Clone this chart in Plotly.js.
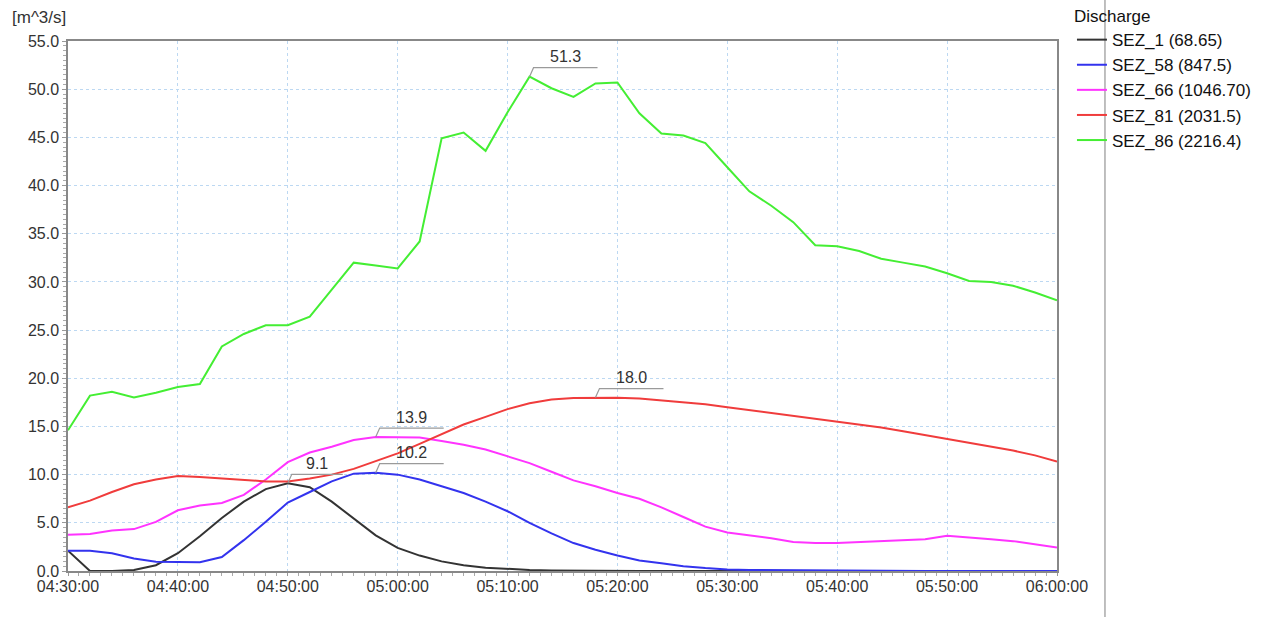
<!DOCTYPE html>
<html>
<head>
<meta charset="utf-8">
<script src="https://cdn.plot.ly/plotly-3.0.1.min.js"></script>
<style>html,body{margin:0;padding:0;background:#fff;}#chart{width:1271px;height:617px;}</style>
</head>
<body>
<div id="chart"></div>
<script>
const times = ["04:30","04:32","04:34","04:36","04:38","04:40","04:42","04:44","04:46","04:48",
  "04:50","04:52","04:54","04:56","04:58","05:00","05:02","05:04","05:06","05:08",
  "05:10","05:12","05:14","05:16","05:18","05:20","05:22","05:24","05:26","05:28",
  "05:30","05:32","05:34","05:36","05:38","05:40","05:42","05:44","05:46","05:48",
  "05:50","05:52","05:54","05:56","05:58","06:00"];

const seriesNames = ["SEZ_1 (68.65)","SEZ_58 (847.5)","SEZ_66 (1046.70)","SEZ_81 (2031.5)","SEZ_86 (2216.4)"];
const seriesColors = ["#333333","#3333ee","#ff33ff","#f03c3c","#44ee33"];

const sez1 = [2.1,0.0,0.0,0.1,0.6,1.85,3.6,5.5,7.2,8.5,
  9.1,8.7,7.2,5.4,3.7,2.4,1.6,1.0,0.6,0.35,
  0.2,0.1,0.05,0.02,0.0,0.0,0.0,0.0,0.0,0.0,
  0.0,0.0,0.0,0.0,0.0,0.0,0.0,0.0,0.0,0.0,
  0.0,0.0,0.0,0.0,0.0,0.0];
const sez58 = [2.1,2.1,1.85,1.3,0.95,0.9,0.9,1.45,3.2,5.1,
  7.1,8.2,9.3,10.1,10.2,10.0,9.5,8.8,8.1,7.2,
  6.2,5.0,3.9,2.9,2.2,1.6,1.1,0.8,0.5,0.3,
  0.15,0.1,0.08,0.05,0.03,0.02,0.01,0.0,0.0,0.0,
  0.0,0.0,0.0,0.0,0.0,0.0];
const sez66 = [3.75,3.85,4.2,4.35,5.1,6.3,6.8,7.05,7.9,9.5,
  11.3,12.3,12.9,13.6,13.9,13.9,13.85,13.5,13.1,12.6,
  11.9,11.2,10.3,9.4,8.8,8.1,7.5,6.6,5.6,4.6,
  4.0,3.7,3.4,3.0,2.9,2.9,3.0,3.1,3.2,3.3,
  3.65,3.5,3.3,3.1,2.8,2.45];
const sez81 = [6.6,7.3,8.2,9.0,9.5,9.85,9.75,9.6,9.4,9.3,
  9.3,9.6,10.0,10.6,11.4,12.2,13.2,14.2,15.2,16.0,
  16.8,17.4,17.8,17.95,18.0,17.98,17.9,17.7,17.5,17.3,
  17.0,16.7,16.4,16.1,15.8,15.5,15.2,14.9,14.5,14.1,
  13.7,13.3,12.9,12.5,12.0,11.35];
const sez86 = [14.6,18.2,18.6,18.0,18.5,19.1,19.4,23.3,24.6,25.5,
  25.5,26.4,29.2,32.0,31.7,31.4,34.2,44.9,45.5,43.6,
  47.6,51.3,50.1,49.2,50.6,50.7,47.5,45.4,45.2,44.4,
  41.9,39.4,37.9,36.2,33.8,33.7,33.2,32.4,32.0,31.6,
  30.9,30.1,30.0,29.6,28.9,28.1];

const allSeries = [sez1, sez58, sez66, sez81, sez86];
const xTimes = times.map(t => "2020-01-01 " + t + ":00");

const traces = allSeries.map((ys, i) => ({
  x: xTimes, y: ys, type: "scatter", mode: "lines", name: seriesNames[i],
  line: {color: seriesColors[i], width: 2}, hoverinfo: "x+y+name"
}));

// peak labels derived from data
const shapes = [];
const annotations = [];
allSeries.forEach((ys) => {
  let mi = 0;
  ys.forEach((v, k) => { if (v > ys[mi]) mi = k; });
  const label = ys[mi].toFixed(1);
  const len = 13 * label.length + 12;
  shapes.push({
    type: "path", xref: "x", yref: "y", xsizemode: "pixel", ysizemode: "pixel",
    xanchor: xTimes[mi], yanchor: ys[mi],
    path: "M0,0 L4,9 L" + (4 + len) + ",9",
    line: {color: "#9a9a9a", width: 1.2}
  });
  annotations.push({
    xref: "x", yref: "y", x: xTimes[mi], y: ys[mi], text: label, showarrow: false,
    xshift: 4 + len / 2, yshift: 20,
    font: {family: "Liberation Sans, Arial, sans-serif", size: 16, color: "#333"}
  });
});

annotations.push({
  xref: "paper", yref: "paper", x: -0.0586, y: 1.0, yshift: 24, xanchor: "left", yanchor: "middle",
  text: "[m^3/s]", showarrow: false,
  font: {family: "Liberation Sans, Arial, sans-serif", size: 17, color: "#333"}
});

shapes.push({
  type: "line", xref: "paper", yref: "paper", x0: 1.0485, x1: 1.0485, y0: -0.09, y1: 1.08,
  line: {color: "#aaaaaa", width: 1.5}
});

const layout = {
  width: 1271, height: 617,
  margin: {l: 68, r: 214, t: 41, b: 46},
  paper_bgcolor: "#fff", plot_bgcolor: "#fff",
  font: {family: "Liberation Sans, Arial, sans-serif", size: 16, color: "#333"},
  showlegend: true,
  legend: {
    xref: "container", yref: "container",
    x: 0.8434, y: 1.0, xanchor: "left", yanchor: "top",
    title: {text: "Discharge", font: {size: 17, color: "#111"}},
    font: {size: 17, color: "#111"}, itemwidth: 30, tracegroupgap: 0,
    bgcolor: "rgba(0,0,0,0)"
  },
  xaxis: {
    type: "date", range: ["2020-01-01 04:30:00", "2020-01-01 06:00:00"],
    dtick: 600000, tickformat: "%H:%M:%S", tick0: "2020-01-01 04:30:00",
    showgrid: true, gridcolor: "#bcd8f2", griddash: "dot", gridwidth: 1,
    showline: true, linecolor: "#888", linewidth: 1.5, mirror: true,
    ticks: "outside", ticklen: 3, tickcolor: "#999", ticklabelstandoff: -3,
    minor: {dtick: 60000, ticks: "outside", ticklen: 3, tickcolor: "#aaa", showgrid: false},
    tickfont: {size: 16, color: "#333"}, zeroline: false
  },
  yaxis: {
    range: [0, 55], dtick: 5, tickformat: ".1f",
    showgrid: true, gridcolor: "#bcd8f2", griddash: "dot", gridwidth: 1,
    showline: true, linecolor: "#888", linewidth: 1.5, mirror: true,
    ticks: "outside", ticklen: 4, tickcolor: "#999",
    minor: {dtick: 0.5, ticks: "outside", ticklen: 3, tickcolor: "#aaa", showgrid: false},
    tickfont: {size: 16, color: "#333"}, zeroline: false
  },
  shapes: shapes,
  annotations: annotations
};

Plotly.newPlot("chart", traces, layout, {displayModeBar: false});
</script>
</body>
</html>
